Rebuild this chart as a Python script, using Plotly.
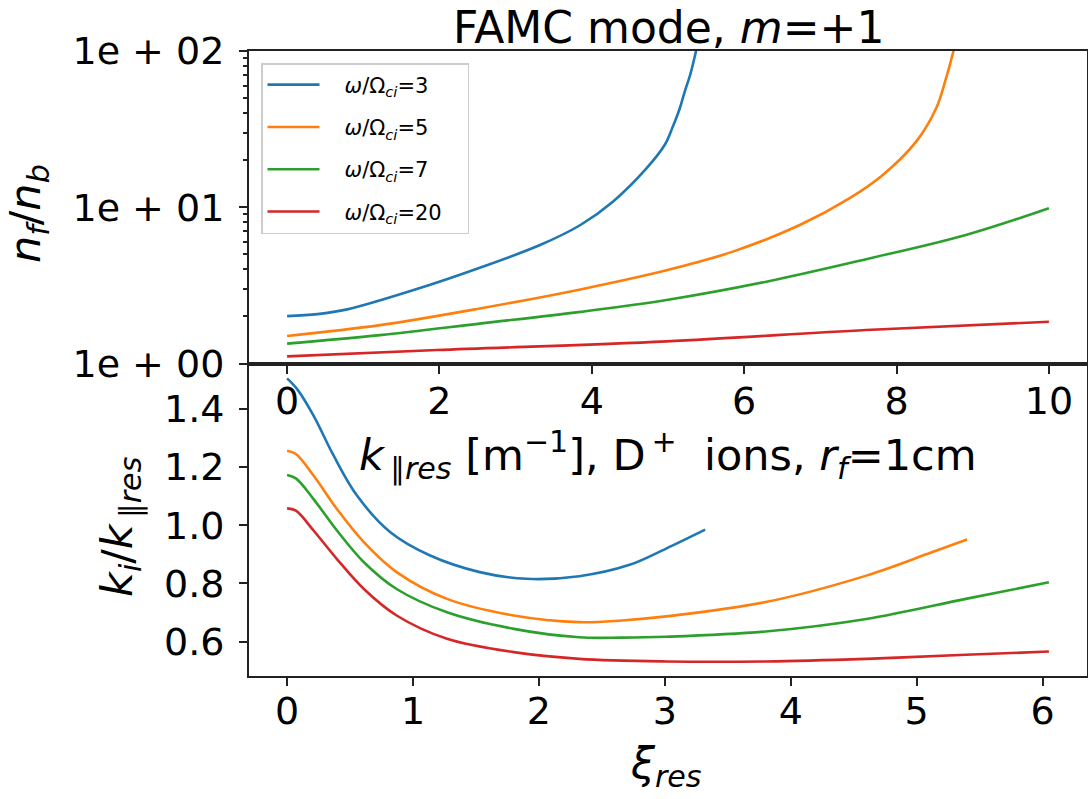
import plotly.graph_objects as go

# ---------------- data ----------------
series_labels = ["<i>ω</i>/Ω<sub><i>ci</i></sub>=3",
                 "<i>ω</i>/Ω<sub><i>ci</i></sub>=5",
                 "<i>ω</i>/Ω<sub><i>ci</i></sub>=7",
                 "<i>ω</i>/Ω<sub><i>ci</i></sub>=20"]
colors = ["#1f77b4", "#ff7f0e", "#2ca02c", "#d62728"]

# top panel: n_f/n_b versus k_par_res
k_w3 = [0, 0.40, 0.79, 1.66, 2.53, 3.32, 3.85, 4.28, 4.72, 4.96, 5.06, 5.155, 5.22, 5.29, 5.37]
n_w3 = [2.01, 2.07, 2.22, 2.95, 4.10, 5.73, 7.7, 10.9, 17.8, 25.2, 32.5, 43.0, 55.0, 70.0, 101.0]
k_w5 = [0, 1.22, 2.53, 3.85, 4.98, 5.85, 6.73, 7.38, 7.82, 8.26, 8.52, 8.65, 8.75]
n_w5 = [1.50, 1.76, 2.25, 2.98, 3.95, 5.2, 7.7, 11.4, 16.1, 26.4, 43.0, 67.0, 101.0]
k_w7 = [0, 1.22, 2.53, 3.85, 4.98, 6.29, 7.60, 8.91, 10.0]
n_w7 = [1.34, 1.52, 1.80, 2.14, 2.55, 3.34, 4.65, 6.65, 9.86]
k_w20 = [0, 1.97, 4.98, 7.60, 10.0]
n_w20 = [1.11, 1.22, 1.385, 1.64, 1.85]

# bottom panel: k_i/k_par_res versus xi_res
xi_w3 = [0, 0.08, 0.21, 0.37, 0.555, 0.82, 1.136, 1.53, 1.90, 2.32, 2.72, 3.01, 3.32]
r_w3 = [1.505, 1.468, 1.377, 1.239, 1.102, 0.976, 0.896, 0.839, 0.816, 0.825, 0.864, 0.920, 0.985]
xi_w5 = [0, 0.07, 0.21, 0.396, 0.61, 0.87, 1.27, 1.80, 2.32, 2.66, 3.01, 3.80, 4.60, 5.12, 5.40]
r_w5 = [1.256, 1.245, 1.171, 1.056, 0.942, 0.839, 0.747, 0.690, 0.667, 0.673, 0.687, 0.736, 0.827, 0.907, 0.951]
xi_w7 = [0, 0.07, 0.21, 0.396, 0.61, 0.87, 1.27, 1.80, 2.32, 2.66, 3.01, 3.80, 4.60, 5.39, 6.05]
r_w7 = [1.173, 1.161, 1.090, 0.982, 0.873, 0.781, 0.701, 0.644, 0.615, 0.614, 0.617, 0.635, 0.678, 0.747, 0.804]
xi_w20 = [0, 0.07, 0.21, 0.396, 0.61, 0.87, 1.27, 1.80, 2.32, 3.01, 3.80, 4.60, 5.39, 6.05]
r_w20 = [1.058, 1.050, 0.982, 0.884, 0.781, 0.690, 0.610, 0.564, 0.541, 0.532, 0.532, 0.541, 0.555, 0.566]

top_x = [k_w3, k_w5, k_w7, k_w20]
top_y = [n_w3, n_w5, n_w7, n_w20]
bot_x = [xi_w3, xi_w5, xi_w7, xi_w20]
bot_y = [r_w3, r_w5, r_w7, r_w20]

log_tickvals = [1, 10, 100]
log_ticktext = ["1e + 00", "1e + 01", "1e + 02"]
log_minor = [2, 3, 4, 5, 6, 7, 8, 9, 20, 30, 40, 50, 60, 70, 80, 90]
top_xticks = [0, 2, 4, 6, 8, 10]
bot_xticks = [0, 1, 2, 3, 4, 5, 6]
bot_yticks = [0.6, 0.8, 1.0, 1.2, 1.4]
bot_yticktext = ["0.6", "0.8", "1.0", "1.2", "1.4"]

# ---------------- figure ----------------
FONT = "DejaVu Sans"
W, H = 1088, 799
L, R, T, B = 249, 1, 51, 123
PW, PH = W - L - R, H - T - B


def px(xp):
    return (xp - L) / PW


def py(yp):
    return (H - B - yp) / PH


NB = "\u00a0"
fig = go.Figure()
for i in range(4):
    fig.add_trace(go.Scatter(x=top_x[i], y=top_y[i], mode="lines",
                             name=NB * 3 + series_labels[i] + NB * 3,
                             line=dict(color=colors[i], width=2.6, shape="spline", smoothing=1.0),
                             xaxis="x", yaxis="y", legendgroup=f"g{i}", showlegend=True))
for i in range(4):
    fig.add_trace(go.Scatter(x=bot_x[i], y=bot_y[i], mode="lines", name=series_labels[i],
                             line=dict(color=colors[i], width=2.6, shape="spline", smoothing=1.0),
                             xaxis="x2", yaxis="y2", legendgroup=f"g{i}", showlegend=False))

axis_common = dict(showline=True, mirror=True, linecolor="#222222", linewidth=2,
                   ticks="outside", ticklen=8, tickwidth=2, tickcolor="#222222",
                   showgrid=False, zeroline=False, automargin=False,
                   tickfont=dict(family=FONT, size=38, color="black"))

fig.update_layout(
    width=W, height=H,
    margin=dict(l=L, r=R, t=T, b=B, autoexpand=False),
    paper_bgcolor="white", plot_bgcolor="white",
    font=dict(family=FONT, color="black"),
    xaxis=dict(domain=[0, 1], anchor="y", range=[-0.5, 10.5],
               tickvals=top_xticks, ticklabelstandoff=-5, **axis_common),
    yaxis=dict(domain=[0.5, 1], anchor="x", type="log", range=[0, 2],
               tickvals=log_tickvals, ticktext=log_ticktext, ticklabelstandoff=7,
               minor=dict(tickvals=log_minor, ticks="outside", ticklen=4, tickwidth=1.5,
                          tickcolor="#222222", showgrid=False),
               **axis_common),
    xaxis2=dict(domain=[0, 1], anchor="y2", range=[-0.3025, 6.3525],
                tickvals=bot_xticks, ticklabelstandoff=-8, **axis_common),
    yaxis2=dict(domain=[0, 0.5], anchor="x2", range=[0.482, 1.556],
                tickvals=bot_yticks, ticktext=bot_yticktext, ticklabelstandoff=7,
                **axis_common),
    legend=dict(x=px(261), y=py(63), xanchor="left", yanchor="top",
                bgcolor="rgba(255,255,255,0.8)", bordercolor="#cccccc", borderwidth=1.5,
                font=dict(family=FONT, size=21, color="black"),
                tracegroupgap=12, itemwidth=52),
    showlegend=True,
)

ann_font = dict(family=FONT, size=43, color="black")
fig.add_annotation(text="FAMC mode, <i>m</i>=+1", x=px(668), y=py(0),
                   xref="paper", yref="paper", xanchor="center", yanchor="top",
                   showarrow=False, font=dict(family=FONT, size=44, color="black"))
fig.add_annotation(text="<i>n<sub>f</sub></i>/<i>n<sub>b</sub></i>", textangle=-90,
                   x=px(28), y=py(214), xref="paper", yref="paper",
                   xanchor="center", yanchor="middle", showarrow=False, font=ann_font)
fig.add_annotation(text="<i>k<sub>i</sub></i>/<i>k</i><sub>\u2009∥<i>res</i></sub>", textangle=-90,
                   x=px(120), y=py(527), xref="paper", yref="paper",
                   xanchor="center", yanchor="middle", showarrow=False, font=ann_font)
fig.add_annotation(text="<i>k</i><sub>\u2009∥<i>res</i></sub> [m<sup>−1</sup>], D<sup>\u2009+</sup>" + NB * 2 + "ions, <i>r<sub>f</sub></i>=1cm",
                   x=px(668), y=py(455), xref="paper", yref="paper",
                   xanchor="center", yanchor="middle", showarrow=False, font=ann_font)
fig.add_annotation(text="<i>ξ<sub>res</sub></i>",
                   x=px(666), y=py(766), xref="paper", yref="paper",
                   xanchor="center", yanchor="middle", showarrow=False, font=ann_font)

fig.write_html("out.html", config={"displayModeBar": False},
               post_script="document.body.style.margin='0';")
